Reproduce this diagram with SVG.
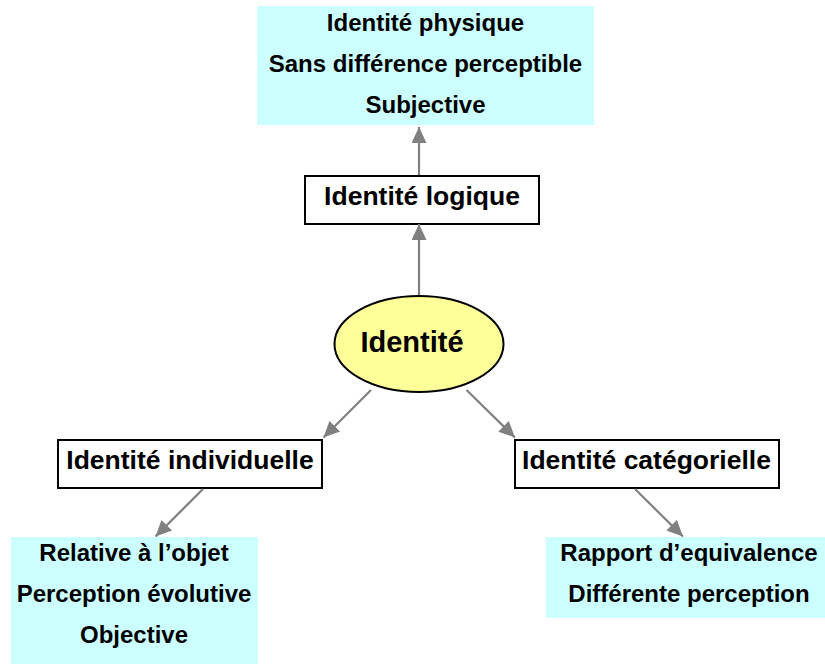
<svg xmlns="http://www.w3.org/2000/svg" width="825" height="664" viewBox="0 0 825 664">
<style>
text{font-family:"Liberation Sans",Arial,sans-serif;font-weight:bold;fill:#000;text-anchor:middle}
.cy{fill:#CCFFFF;stroke:none}
.bx{fill:#fff;stroke:#000;stroke-width:2}
.t24{font-size:24px}
.t26{font-size:26.5px}
.conn line{stroke:#808080;stroke-width:2.2}
</style>
<defs>
<marker id="ah" viewBox="0 0 16 15" refX="16" refY="7.5" markerWidth="16" markerHeight="15" markerUnits="userSpaceOnUse" orient="auto">
<path d="M0,0 L16,7.5 L0,15 z" fill="#808080"/>
</marker>
</defs>
<rect width="825" height="664" fill="#fff"/>
<g id="n-physique">
<rect class="cy" x="257" y="6" width="337" height="119"/>
<text class="t24" x="425.5" y="31">Identité physique</text>
<text class="t24" x="425.5" y="72">Sans différence perceptible</text>
<text class="t24" x="425.5" y="113">Subjective</text>
</g>
<g id="n-logique">
<rect class="bx" x="305" y="176" width="234" height="48"/>
<text class="t26" x="422" y="205">Identité logique</text>
</g>
<g id="n-identite">
<ellipse cx="419" cy="344" rx="84.5" ry="48" fill="#FFFF99" stroke="#000" stroke-width="2"/>
<text x="412" y="352" font-size="29px">Identité</text>
</g>
<g id="n-individuelle">
<rect class="bx" x="58" y="440" width="264" height="48"/>
<text class="t26" x="190" y="469">Identité individuelle</text>
</g>
<g id="n-categorielle">
<rect class="bx" x="515" y="440" width="264" height="48"/>
<text class="t26" x="646.5" y="469">Identité catégorielle</text>
</g>
<g id="n-objet">
<rect class="cy" x="11" y="537" width="247" height="127"/>
<text class="t24" x="134" y="561">Relative à l’objet</text>
<text class="t24" x="134" y="602">Perception évolutive</text>
<text class="t24" x="134" y="643">Objective</text>
</g>
<g id="n-equivalence">
<rect class="cy" x="546" y="537" width="279" height="81"/>
<text class="t24" x="689" y="561">Rapport d’equivalence</text>
<text class="t24" x="689" y="602">Différente perception</text>
</g>
<g class="conn" id="connectors">
<line x1="419" y1="175" x2="419" y2="127" marker-end="url(#ah)"/>
<line x1="419" y1="295" x2="419" y2="224" marker-end="url(#ah)"/>
<line x1="371" y1="390" x2="323.5" y2="437.5" marker-end="url(#ah)"/>
<line x1="466.5" y1="390" x2="515" y2="437.5" marker-end="url(#ah)"/>
<line x1="203" y1="489" x2="155.5" y2="536.5" marker-end="url(#ah)"/>
<line x1="635" y1="489" x2="683" y2="536.5" marker-end="url(#ah)"/>
</g>
</svg>
